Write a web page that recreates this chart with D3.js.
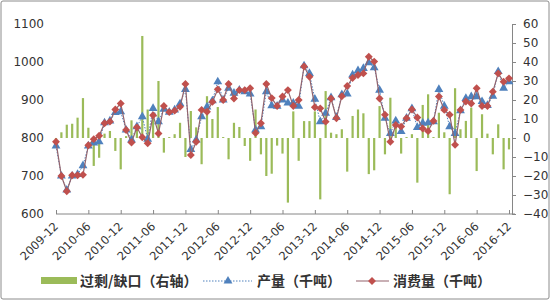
<!DOCTYPE html>
<html>
<head>
<meta charset="utf-8">
<script src="https://cdn.jsdelivr.net/npm/d3@7"></script>
<style>
  body { margin: 0; background: #fff; }
  svg { display: block; }
</style>
</head>
<body>
<div id="chart"></div>
<script>
// monthly categories 2009-12 .. 2016-12
const months = d3.timeMonth.range(new Date(2009, 11, 1), new Date(2017, 0, 1)).map(d3.timeFormat('%Y-%m'))
const tickLabels = ['2009-12', '2010-06', '2010-12', '2011-06', '2011-12', '2012-06', '2012-12', '2013-06',
  '2013-12', '2014-06', '2014-12', '2015-06', '2015-12', '2016-06', '2016-12']
const leftTicks = [600, 700, 800, 900, 1000, 1100]
const rightTicks = [-40, -30, -20, -10, 0, 10, 20, 30, 40, 50, 60]

// 产量 (千吨)
const production = [779, 700, 663, 700, 704, 727, 779, 787, 790, 840, 845, 867, 869, 821, 795, 830, 856, 797, 878, 843,
  876, 868, 874, 890, 928, 770, 795, 856, 882, 898, 948, 900, 931, 918, 926, 922, 916, 821, 830, 922,
  885, 884, 900, 892, 892, 884, 990, 970, 902, 843, 865, 906, 854, 914, 916, 966, 977, 983, 998, 985,
  926, 852, 812, 845, 817, 852, 877, 828, 839, 840, 843, 928, 884, 830, 812, 872, 904, 909, 909, 896,
  886, 910, 975, 931, 948]
// 消费量 (千吨)
const consumption = [790, 700, 660, 702, 702, 703, 781, 797, 806, 839, 843, 875, 891, 821, 788, 828, 802, 786, 860, 812,
  884, 868, 872, 882, 942, 755, 790, 874, 869, 895, 928, 900, 942, 904, 926, 926, 931, 813, 839, 942,
  905, 884, 909, 926, 884, 900, 988, 961, 881, 878, 843, 904, 852, 910, 937, 958, 966, 970, 1014, 1001,
  904, 861, 790, 834, 830, 852, 875, 854, 825, 818, 845, 909, 874, 861, 782, 874, 896, 891, 931, 884,
  884, 922, 970, 948, 957]
// 过剩/缺口 (右轴)
const surplus = [-4, 3, 7, 7.5, 10.7, 21, 5.4, -14.7, -10.4, 2.3, 3.7, -6.8, -16.5, 1, 9.3, 5.4, 53.7, 15, 11.6, 30,
  -7.7, 0.5, 2, 8, -10, 14.2, 5.6, -13.8, 22, 10, 16.3, 0.5, -11.2, 8, 5.8, -4.2, -12, 15, -8.6, -20,
  -18.8, -4, -8.2, -34, 14, -12, 8.9, 8.9, 14, -32.3, 24.7, 2.8, 2, 4.6, -17.7, 11.6, 15, 13, -19, -17,
  16.8, -8.6, 21.2, 9, -8.2, 0.5, 2, -23.5, 17.4, 23, 0.5, 13.3, 3, -29.6, 26.2, 4.6, 9, 16, -17.4, 12.5,
  2.3, -8.6, 7.2, -16.5, -6]

const width = 550
const height = 300
const plot = { left: 56, right: 512, top: 24, bottom: 214 }

const svg = d3.select('#chart').append('svg')
  .attr('width', width)
  .attr('height', height)
  .style('font-family', '"DejaVu Sans", sans-serif')

svg.append('rect')
  .attr('x', 1).attr('y', 1).attr('width', width - 2).attr('height', height - 2)
  .attr('rx', 2)
  .attr('fill', '#fff').attr('stroke', '#8c8c8c')

const x = d3.scalePoint().domain(months).range([plot.left, plot.right - 3])
const yL = d3.scaleLinear().domain([600, 1100]).range([plot.bottom, plot.top])
const yR = d3.scaleLinear().domain([-40, 60]).range([plot.bottom, plot.top])

// left axis, labels only
const gL = svg.append('g')
  .attr('transform', 'translate(' + (plot.left - 12) + ',0)')
  .call(d3.axisLeft(yL).tickValues(leftTicks).tickFormat(d3.format('d')).tickSize(0).tickPadding(0))
gL.select('.domain').remove()
gL.selectAll('text').attr('font-size', 12).attr('fill', '#333').style('font-family', '"DejaVu Sans", sans-serif')

// right axis
const gR = svg.append('g')
  .attr('transform', 'translate(' + plot.right + ',0)')
  .call(d3.axisRight(yR).tickValues(rightTicks).tickSize(4).tickSizeOuter(0).tickPadding(7))
gR.select('.domain').attr('stroke', '#868686')
gR.selectAll('.tick line').attr('stroke', '#868686')
gR.selectAll('text').attr('font-size', 12).attr('fill', '#333').style('font-family', '"DejaVu Sans", sans-serif')

// bars
svg.append('g')
  .selectAll('rect')
  .data(surplus)
  .enter()
  .append('rect')
  .attr('x', (d, i) => x(months[i]) - 1.1)
  .attr('width', 2.2)
  .attr('y', d => yR(Math.max(0, d)))
  .attr('height', d => Math.abs(yR(d) - yR(0)))
  .attr('fill', '#9bbb59')

// bottom axis
const gX = svg.append('g')
  .attr('transform', 'translate(0,' + plot.bottom + ')')
  .call(d3.axisBottom(x).tickValues(tickLabels).tickSize(-4).tickSizeOuter(0).tickFormat(''))
gX.select('.domain').attr('stroke', '#868686').attr('d', 'M' + plot.left + ',0H' + (plot.right + 3))
gX.selectAll('.tick line').attr('stroke', '#868686')

svg.append('g')
  .selectAll('text')
  .data(tickLabels)
  .enter()
  .append('text')
  .attr('transform', d => 'translate(' + (x(d) + 3) + ',' + (plot.bottom + 13) + ')rotate(-45)')
  .attr('text-anchor', 'end')
  .attr('font-size', 11.5)
  .attr('fill', '#333')
  .text(d => d)

// production line (dotted) + triangles
const line = d3.line().x((d, i) => x(months[i]))
svg.append('path')
  .datum(production)
  .attr('d', line.y(d => yL(d)))
  .attr('fill', 'none')
  .attr('stroke', '#4f81bd')
  .attr('stroke-width', 1)
  .attr('stroke-dasharray', '1.5,1.5')

const tri = d3.symbol().type(d3.symbolTriangle).size(34)
svg.append('g')
  .selectAll('path')
  .data(production)
  .enter()
  .append('path')
  .attr('d', tri)
  .attr('transform', (d, i) => 'translate(' + x(months[i]) + ',' + yL(d) + ')')
  .attr('fill', '#4f81bd')

// consumption line + diamonds
svg.append('path')
  .datum(consumption)
  .attr('d', d3.line().x((d, i) => x(months[i])).y(d => yL(d)))
  .attr('fill', 'none')
  .attr('stroke', '#93636c')
  .attr('stroke-width', 1.2)

const dia = d3.symbol().type(d3.symbolDiamond2).size(40)
svg.append('g')
  .selectAll('path')
  .data(consumption)
  .enter()
  .append('path')
  .attr('d', dia)
  .attr('transform', (d, i) => 'translate(' + x(months[i]) + ',' + yL(d) + ')')
  .attr('fill', '#c0504d')

// legend
const lg = svg.append('g').style('font-family', '"Noto Sans CJK SC", sans-serif')
  .attr('font-size', 14).attr('font-weight', 'bold').attr('fill', '#333')
lg.append('rect').attr('x', 41).attr('y', 277).attr('width', 36).attr('height', 7).attr('fill', '#9bbb59')
lg.append('text').attr('x', 80).attr('y', 286).text('过剩/缺口（右轴）')

lg.append('line').attr('x1', 203).attr('x2', 252).attr('y1', 281).attr('y2', 281)
  .attr('stroke', '#4f81bd').attr('stroke-dasharray', '1.5,1.5')
lg.append('path').attr('d', tri).attr('transform', 'translate(228,281)').attr('fill', '#4f81bd')
lg.append('text').attr('x', 257).attr('y', 286).text('产量（千吨）')

lg.append('line').attr('x1', 356).attr('x2', 389).attr('y1', 281).attr('y2', 281)
  .attr('stroke', '#93636c').attr('stroke-width', 1.2)
lg.append('path').attr('d', dia).attr('transform', 'translate(372,281)').attr('fill', '#c0504d')
lg.append('text').attr('x', 393).attr('y', 286).text('消费量（千吨）')
</script>
</body>
</html>
